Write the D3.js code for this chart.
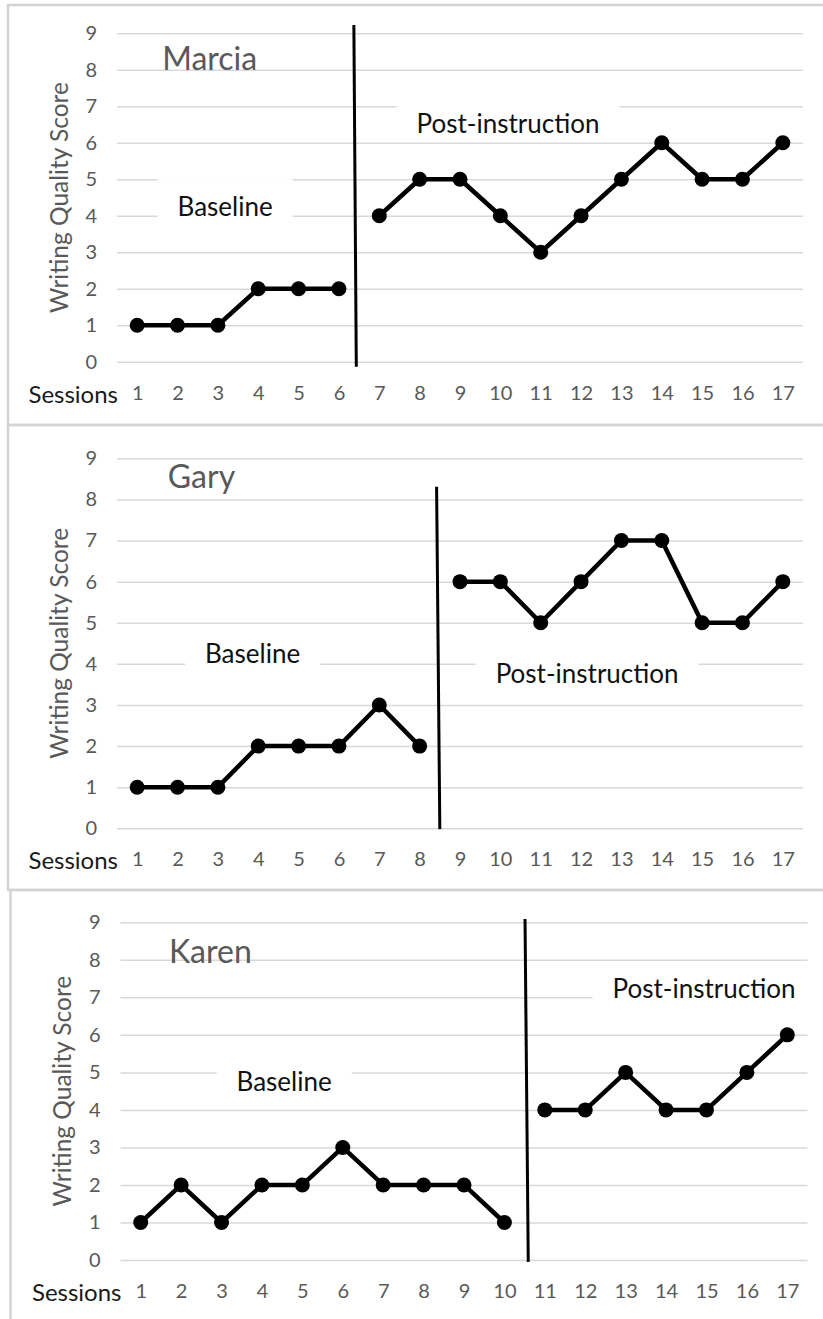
<!DOCTYPE html>
<html lang="en">
<head>
<meta charset="UTF-8">
<title>Writing Quality Score by Session</title>
<script src="https://cdn.jsdelivr.net/npm/d3@7"></script>
<style>
  body { margin: 0; background: #fff; }
  svg { display: block; font-family: Lato, "Open Sans", sans-serif; }
</style>
</head>
<body>
<svg id="chart" width="823" height="1319"></svg>
<script>
  // ---- data ----
  const sessions = [1, 2, 3, 4, 5, 6, 7, 8, 9, 10, 11, 12, 13, 14, 15, 16, 17];
  const scoreTicks = [0, 1, 2, 3, 4, 5, 6, 7, 8, 9];
  const students = ["Marcia", "Gary", "Karen"];

  const marciaBaseline = [1, 1, 1, 2, 2, 2];
  const marciaPost = [4, 5, 5, 4, 3, 4, 5, 6, 5, 5, 6];
  const garyBaseline = [1, 1, 1, 2, 2, 2, 3, 2];
  const garyPost = [6, 6, 5, 6, 7, 7, 5, 5, 6];
  const karenBaseline = [1, 2, 1, 2, 2, 3, 2, 2, 2, 1];
  const karenPost = [4, 4, 5, 4, 4, 5, 6];

  // phase change line (session units, top / bottom) and its score extent
  const phaseTop = [6.37, 8.42, 10.51];
  const phaseBottom = [6.43, 8.5, 10.59];
  const phaseTopScore = [9.23, 8.31, 9.09];
  const phaseBottomScore = [-0.14, -0.02, -0.05];

  // label anchors in [session, score] units
  const nameAt = [[1.62, 8.0], [1.76, 8.28], [1.7, 7.92]];
  const baselineAt = [[3.18, 3.99], [3.86, 4.03], [4.55, 4.5]];
  const postAt = [[10.19, 6.26], [12.15, 3.53], [14.94, 6.98]];

  const seriesBaseline = [marciaBaseline, garyBaseline, karenBaseline];
  const seriesPost = [marciaPost, garyPost, karenPost];

  // ---- layout of each panel (pixels) ----
  const panels = [
    { frameX: 8, frameY: 5, frameH: 420, left: 117, right: 803, top: 33.3, bottom: 361.7 },
    { frameX: 8, frameY: 425, frameH: 465, left: 117, right: 803, top: 458.3, bottom: 828.3 },
    { frameX: 10.5, frameY: 890, frameH: 460, left: 120.5, right: 807.5, top: 922.3, bottom: 1260 }
  ];

  const svg = d3.select("#chart");
  svg.append("rect").attr("width", 823).attr("height", 1319).attr("fill", "#fff");

  panels.forEach(function(p, i) {
    const g = svg.append("g");
    const x = d3.scaleLinear().domain([0.5, 17.5]).range([p.left, p.right]);
    const y = d3.scaleLinear().domain([0, 9]).range([p.bottom, p.top]);

    // panel frame
    g.append("rect")
      .attr("x", p.frameX).attr("y", p.frameY)
      .attr("width", 900).attr("height", p.frameH)
      .attr("fill", "none").attr("stroke", "#d3d3d3").attr("stroke-width", 2.5);

    // gridlines + score labels
    g.append("g")
      .attr("transform", "translate(" + p.left + ",0)")
      .call(d3.axisLeft(y).tickValues(scoreTicks).tickSize(-(p.right - p.left)).tickPadding(20))
      .attr("font-family", null).attr("font-size", 20)
      .call(a => a.select(".domain").remove())
      .call(a => a.selectAll("line").attr("stroke", "#d9d9d9").attr("stroke-width", 1.5))
      .call(a => a.selectAll("text").attr("fill", "#595959"));

    // session labels
    g.append("g")
      .attr("transform", "translate(0," + p.bottom + ")")
      .call(d3.axisBottom(x).tickValues(sessions).tickFormat(d3.format("d")).tickSize(0).tickPadding(24))
      .attr("font-family", null).attr("font-size", 20)
      .call(a => a.select(".domain").remove())
      .call(a => a.selectAll("text").attr("fill", "#595959"));

    g.append("text")
      .attr("x", p.left + 1)
      .attr("y", p.bottom + 24)
      .attr("dy", "0.71em")
      .attr("text-anchor", "end")
      .attr("font-size", 24)
      .attr("fill", "#1a1a1a")
      .text("Sessions");

    // y axis title
    g.append("text")
      .attr("transform", "translate(" + (p.left - 58) + "," + ((p.top + p.bottom) / 2) + ") rotate(-90)")
      .attr("text-anchor", "middle")
      .attr("dy", "0.35em")
      .attr("font-size", 24.5)
      .attr("fill", "#595959")
      .text("Writing Quality Score");

    // phase labels with white boxes
    [["Baseline", baselineAt[i]], ["Post-instruction", postAt[i]]].forEach(function(lab) {
      const box = g.append("rect").attr("fill", "#fff");
      const t = g.append("text")
        .attr("x", x(lab[1][0]))
        .attr("y", y(lab[1][1]))
        .attr("text-anchor", "middle")
        .attr("font-size", 26)
        .attr("fill", "#111")
        .text(lab[0]);
      const bb = t.node().getBBox();
      box.attr("x", bb.x - 20).attr("width", bb.width + 40)
        .attr("y", y(lab[1][1]) - 37).attr("height", 45);
    });

    // student name
    g.append("text")
      .attr("x", x(nameAt[i][0]))
      .attr("y", y(nameAt[i][1]))
      .attr("font-size", 32)
      .attr("fill", "#595959")
      .text(students[i]);

    // phase change line
    g.append("line")
      .attr("x1", x(phaseTop[i])).attr("y1", y(phaseTopScore[i]))
      .attr("x2", x(phaseBottom[i])).attr("y2", y(phaseBottomScore[i]))
      .attr("stroke", "#000").attr("stroke-width", 3);

    // data series: baseline then post-instruction, not joined
    const nBase = seriesBaseline[i].length;
    const phases = [
      seriesBaseline[i].map((v, j) => ({ s: sessions[j], v: v })),
      seriesPost[i].map((v, j) => ({ s: sessions[nBase + j], v: v }))
    ];
    const line = d3.line().x(d => x(d.s)).y(d => y(d.v));

    phases.forEach(function(pts) {
      g.append("path")
        .datum(pts)
        .attr("d", line)
        .attr("fill", "none")
        .attr("stroke", "#000")
        .attr("stroke-width", 4.5)
        .attr("stroke-linejoin", "round");
      g.selectAll(null)
        .data(pts)
        .enter().append("circle")
        .attr("cx", d => x(d.s))
        .attr("cy", d => y(d.v))
        .attr("r", 7.5)
        .attr("fill", "#000");
    });
  });
</script>
</body>
</html>
